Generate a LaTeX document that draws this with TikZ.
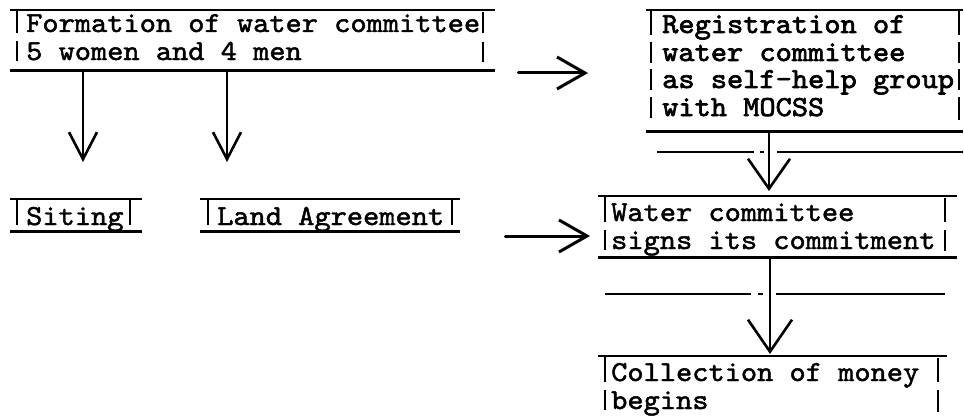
\documentclass[tikz,border=0pt]{standalone}
\usepackage{fontspec}
\newfontfamily\tw{lmmono10-regular.otf}[FakeStretch=1.065,FakeBold=1.6]
\newfontfamily\twb{lmmono10-regular.otf}[FakeStretch=1.065,FakeBold=2.4]
\usetikzlibrary{arrows.meta}
\begin{document}
\begin{tikzpicture}[x=1pt,y=-1pt,
  rule/.style={line width=2.6pt},
  tickln/.style={line width=2.2pt},
  boxarea/.style={draw=none, inner sep=0pt, anchor=north west},
  txt/.style={inner sep=0pt, anchor=base west, font=\tw\fontsize{29}{27}\selectfont},
  bigtxt/.style={txt, font=\twb\fontsize{29}{27}\selectfont},
  conn/.style={line width=2.6pt, line cap=round},
  varrA/.style={conn, -{Straight Barb[length=27pt,width=28pt]}},
  varrB/.style={conn, -{Straight Barb[length=30pt,width=42pt]}},
  varrC/.style={conn, -{Straight Barb[length=32pt,width=44pt]}},
  harr/.style={conn, line width=3pt, -{Straight Barb[length=28pt,width=32pt]}},
]
\useasboundingbox (0,0) rectangle (964,420);

% ---------- box areas ----------
\node[boxarea, minimum width=485pt, minimum height=60pt] (form) at (10,10) {};
\node[boxarea, minimum width=132pt, minimum height=32pt] (siting) at (10,199) {};
\node[boxarea, minimum width=260pt, minimum height=32pt] (land) at (200,199) {};
\node[boxarea, minimum width=317pt, minimum height=121pt] (reg) at (646,10) {};
\node[boxarea, minimum width=359pt, minimum height=61pt] (water) at (598,196) {};
\node[boxarea, minimum width=349pt, minimum height=64pt] (coll) at (598,356) {};

% ---------- box rules ----------
\foreach \b in {form,siting,land,reg,water}{
  \draw[rule] (\b.north west) -- (\b.north east);
  \draw[rule] (\b.south west) -- (\b.south east);
}
\draw[rule] (coll.north west) -- (coll.north east);

% ---------- texts ----------
\node[txt] (f1) at (26,32) {Formation of water committee};
\node[txt] (f2) at (26,60) {5 women and 4 men};
\node[txt] (s1) at (26,225) {Siting};
\node[txt] (l1) at (217,225) {Land Agreement};
\node[bigtxt] (r1) at (662,33) {Registration of};
\node[bigtxt] (r2) at (662,61) {water committee};
\node[bigtxt] (r3) at (662,88) {as self-help group};
\node[bigtxt] (r4) at (662,116) {with MOCSS};
\node[txt] (w1) at (611,221) {Water committee};
\node[txt] (w2) at (611,249) {signs its commitment};
\node[txt] (c1) at (611,381) {Collection of money};
\node[txt] (c2) at (611,409) {begins};

% ---------- ticks ----------
\draw[tickln] (17,10) -- (17,33)  (17,41) -- (17,61);
\draw[tickln] (483,12) -- (483,33)  (483,42) -- (483,62);
\draw[tickln] (17,199) -- (17,225)  (130,199) -- (130,225);
\draw[tickln] (208,199) -- (208,225)  (452,199) -- (452,225);
\draw[tickln] (651,10) -- (651,35)  (651,42) -- (651,63)  (651,69) -- (651,90)  (651,97) -- (651,118);
\draw[tickln] (959,10) -- (959,35)  (959,42) -- (959,63)  (959,69) -- (959,90)  (959,97) -- (959,120);
\draw[tickln] (605,196) -- (605,222)  (605,230) -- (605,250);
\draw[tickln] (945,198) -- (945,222)  (945,230) -- (945,251);
\draw[tickln] (605,356) -- (605,382)  (605,390) -- (605,410);
\draw[tickln] (938,358) -- (938,382)  (938,390) -- (938,412);

% ---------- separating lines ----------
\draw[rule] (657,152) -- (754,152)  (760,152) -- (764,152)  (777,152) -- (963,152);
\draw[rule] (605,294) -- (751,294)  (758,294) -- (763,294)  (776,294) -- (945,294);

% ---------- connectors ----------
\coordinate (colA) at (83,0);
\coordinate (colB) at (227,0);
\coordinate (colC) at (769,0);
\coordinate (colD) at (770,0);
\coordinate (rowA) at (0,73);
\coordinate (rowB) at (0,236);

\draw[varrA, shorten >=37pt] (form.south -| colA) -- (siting.north -| colA);
\draw[varrA, shorten >=37pt] (form.south -| colB) -- (land.north -| colB);
\draw[harr, shorten <=23pt, shorten >=58pt] (form.east |- rowA) -- (reg.west |- rowA);
\draw[harr, shorten <=45pt, shorten >=8pt] (land.east |- rowB) -- (water.west |- rowB);
\draw[varrB, shorten >=5pt] (reg.south -| colC) -- (water.north -| colC);
\draw[varrC, shorten >=2pt] (water.south -| colD) -- (coll.north -| colD);
\end{tikzpicture}
\end{document}
